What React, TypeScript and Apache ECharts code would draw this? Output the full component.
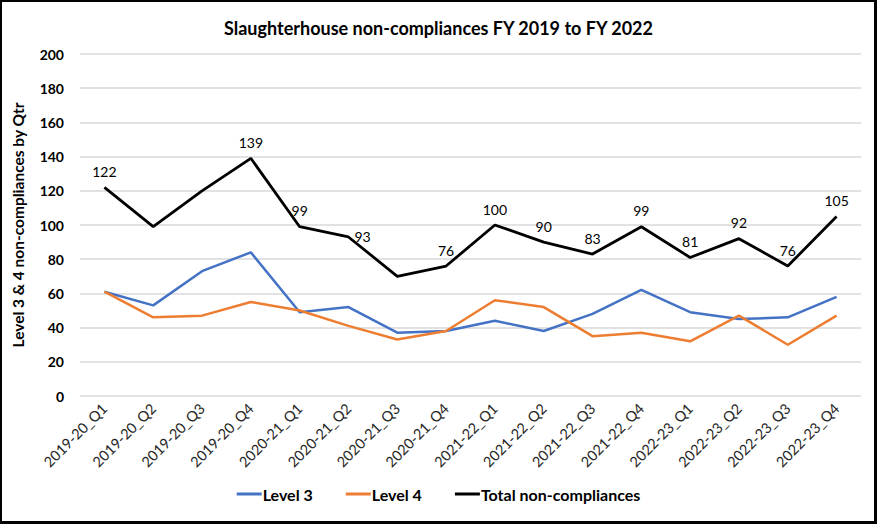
import { useEffect, useRef } from 'react';
import * as echarts from 'echarts';

const quarters = [
    '2019-20_Q1', '2019-20_Q2', '2019-20_Q3', '2019-20_Q4',
    '2020-21_Q1', '2020-21_Q2', '2020-21_Q3', '2020-21_Q4',
    '2021-22_Q1', '2021-22_Q2', '2021-22_Q3', '2021-22_Q4',
    '2022-23_Q1', '2022-23_Q2', '2022-23_Q3', '2022-23_Q4',
];
const level3 = [61, 53, 73, 84, 49, 52, 37, 38, 44, 38, 48, 62, 49, 45, 46, 58];
const level4 = [61, 46, 47, 55, 50, 41, 33, 38, 56, 52, 35, 37, 32, 47, 30, 47];
const totals = [122, 99, 120, 139, 99, 93, 70, 76, 100, 90, 83, 99, 81, 92, 76, 105];
// which totals carry no data label in the original
const hiddenLabels = [1, 2, 6];
// labels placed to the right of the point instead of above
const rightLabels = [5];

const FONT = 'Lato, "Open Sans", sans-serif';

export default function App() {
    const chartRef = useRef<HTMLDivElement>(null);

    useEffect(() => {
        document.body.style.margin = '0';
        if (!chartRef.current) return;
        const chart = echarts.init(chartRef.current, undefined, { renderer: 'svg' });

        const totalData = totals.map((v, i) => ({
            value: v,
            label: hiddenLabels.includes(i)
                ? { show: false }
                : rightLabels.includes(i)
                    ? { show: true, position: 'right' as const, distance: 6 }
                    : { show: true, position: 'top' as const, distance: 9 },
        }));

        chart.setOption({
            animation: false,
            textStyle: { fontFamily: FONT },
            title: {
                text: 'Slaughterhouse non-compliances FY 2019 to FY 2022',
                left: 'center',
                top: 14,
                textStyle: { fontFamily: FONT, fontSize: 18, fontWeight: 'bold', color: '#000' },
            },
            legend: {
                bottom: 17,
                left: 'center',
                itemGap: 33,
                itemWidth: 25,
                itemHeight: 3,
                icon: 'rect',
                textStyle: { fontFamily: FONT, fontSize: 16, fontWeight: 'bold', color: '#000', padding: [0, 0, 0, -4] },
                data: ['Level 3', 'Level 4', 'Total non-compliances'],
            },
            grid: { left: 80, right: 16, top: 54, bottom: 128 },
            xAxis: {
                type: 'category',
                data: quarters,
                boundaryGap: true,
                axisLine: { show: false },
                axisTick: { show: false },
                axisLabel: {
                    rotate: 45,
                    margin: 10,
                    fontSize: 14.5,
                    color: '#262626',
                    fontFamily: FONT,
                    interval: 0,
                },
            },
            yAxis: {
                type: 'value',
                min: 0,
                max: 200,
                interval: 20,
                name: 'Level 3 & 4 non-compliances by Qtr',
                nameLocation: 'middle',
                nameGap: 54,
                nameTextStyle: { fontFamily: FONT, fontSize: 15.5, fontWeight: 'bold', color: '#000' },
                axisLine: { show: false },
                axisTick: { show: false },
                axisLabel: { fontSize: 14, fontWeight: 'bold', color: '#000', margin: 16, fontFamily: FONT },
                splitLine: { lineStyle: { color: '#d9d9d9', width: 1.5 } },
            },
            series: [
                {
                    name: 'Level 3',
                    type: 'line',
                    data: level3,
                    symbol: 'none',
                    lineStyle: { color: '#4472c4', width: 2.5 },
                    itemStyle: { color: '#4472c4' },
                },
                {
                    name: 'Level 4',
                    type: 'line',
                    data: level4,
                    symbol: 'none',
                    lineStyle: { color: '#ed7d31', width: 2.5 },
                    itemStyle: { color: '#ed7d31' },
                },
                {
                    name: 'Total non-compliances',
                    type: 'line',
                    data: totalData,
                    symbol: 'circle',
                    symbolSize: 0,
                    showSymbol: true,
                    lineStyle: { color: '#000', width: 2.8 },
                    itemStyle: { color: '#000' },
                    label: { fontSize: 14, color: '#000', fontFamily: FONT },
                },
            ],
        });

        return () => {
            chart.dispose();
        };
    }, []);

    return (
        <div style={{ position: 'relative', width: 877, height: 524, background: '#fff' }}>
            <div ref={chartRef} style={{ width: 877, height: 524 }} />
            <div
                style={{
                    position: 'absolute',
                    inset: 0,
                    boxSizing: 'border-box',
                    borderTop: '2px solid #000',
                    borderLeft: '2px solid #000',
                    borderRight: '3px solid #000',
                    borderBottom: '3px solid #000',
                    pointerEvents: 'none',
                }}
            />
        </div>
    );
}
